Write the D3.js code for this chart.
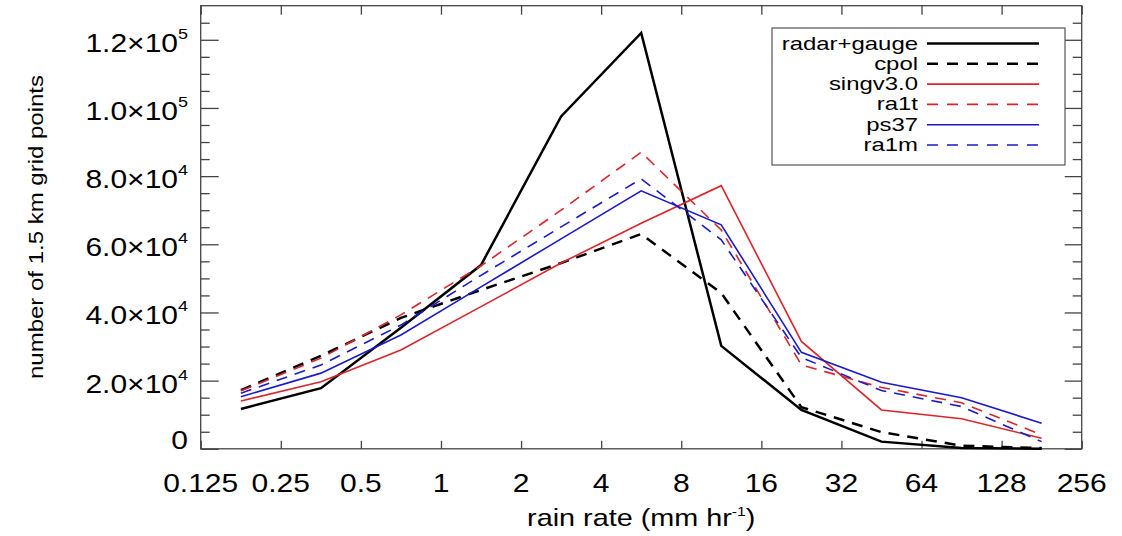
<!DOCTYPE html>
<html>
<head>
<meta charset="utf-8">
<script src="https://cdn.jsdelivr.net/npm/d3@7"></script>
<style>
  body { margin: 0; background: #fff; }
  text { font-family: "Liberation Sans", Arial, Helvetica, sans-serif; fill: #000; }
</style>
</head>
<body>
<svg id="chart" width="1122" height="536"></svg>
<script>
// bin centres (mm/hr), log2 spaced
const rainRate = [0.177, 0.354, 0.707, 1.414, 2.828, 5.657, 11.31, 22.63, 45.25, 90.51, 181.0];

const radarGauge = [11700, 17800, 35500, 53900, 97500, 122000, 30200, 11400, 2100, 200, 0];
const cpol       = [17200, 27300, 38400, 46600, 54500, 63000, 45700, 12200, 4900, 900, 200];
const singv30    = [14000, 19700, 29000, 41700, 54500, 66200, 77200, 31500, 11400, 8800, 3100];
const ra1t       = [17000, 26600, 39300, 53700, 70000, 87000, 64200, 24600, 18000, 13500, 4100];
const ps37       = [15300, 22200, 33400, 47500, 61600, 75700, 65700, 28300, 19500, 15000, 7500];
const ra1m       = [16300, 24600, 36300, 50900, 65100, 79200, 61300, 26800, 17100, 12400, 2100];

const seriesNames = ["radar+gauge", "cpol", "singv3.0", "ra1t", "ps37", "ra1m"];
const seriesColors = ["#000000", "#000000", "#d9262b", "#d9262b", "#1a1ac8", "#1a1ac8"];
const seriesDashed = [false, true, false, true, false, true];
const seriesWidths = [2.5, 2.5, 1.6, 1.6, 1.6, 1.6];
const seriesValues = [radarGauge, cpol, singv30, ra1t, ps37, ra1m];

const xTickValues = [0.125, 0.25, 0.5, 1, 2, 4, 8, 16, 32, 64, 128, 256];
const yMajorValues = [0, 20000, 40000, 60000, 80000, 100000, 120000];
const yMinorValues = [5000, 10000, 15000, 25000, 30000, 35000, 45000, 50000, 55000,
  65000, 70000, 75000, 85000, 90000, 95000, 105000, 110000, 115000, 125000];

const xTitle = "rain rate (mm hr";
const yTitle = "number of 1.5 km grid points";

const stretch = 1.2; // text in the figure is drawn wide
const plotLeft = 200.7, plotRight = 1081.7, plotTop = 5.7, plotBottom = 448.8;

const svg = d3.select("#chart");

const x = d3.scaleLog().base(2).domain([0.125, 256]).range([plotLeft, plotRight]);
const y = d3.scaleLinear().domain([0, 130000]).range([plotBottom, plotTop]);

// helper for stretched text
function label(px, py, str, size, anchor, sx) {
  const g = svg.append("g").attr("transform", `translate(${px},${py}) scale(${sx || stretch},1)`);
  return g.append("text")
    .attr("text-anchor", anchor)
    .style("font-size", size + "px")
    .text(str);
}

// tick marks via d3 axes (inward ticks, no labels)
function tickAxis(axis, tx, ty) {
  const g = svg.append("g").attr("transform", `translate(${tx},${ty})`).call(axis);
  g.select(".domain").remove();
  g.selectAll("line").attr("stroke", "#444").attr("stroke-width", 1.3);
  g.selectAll("text").remove();
}

tickAxis(d3.axisBottom(x).tickValues(xTickValues).tickSize(-8).tickFormat(""), 0, plotBottom);
tickAxis(d3.axisTop(x).tickValues(xTickValues).tickSize(-9).tickFormat(""), 0, plotTop);
tickAxis(d3.axisLeft(y).tickValues(yMajorValues).tickSize(-18).tickFormat(""), plotLeft, 0);
tickAxis(d3.axisLeft(y).tickValues(yMinorValues).tickSize(-9).tickFormat(""), plotLeft, 0);
tickAxis(d3.axisRight(y).tickValues(yMajorValues).tickSize(-17).tickFormat(""), plotRight, 0);
tickAxis(d3.axisRight(y).tickValues(yMinorValues).tickSize(-9).tickFormat(""), plotRight, 0);

// frame
svg.append("rect")
  .attr("x", plotLeft).attr("y", plotTop)
  .attr("width", plotRight - plotLeft).attr("height", plotBottom - plotTop)
  .attr("fill", "none").attr("stroke", "#444").attr("stroke-width", 1.3);

// x tick labels
xTickValues.forEach(v => {
  label(x(v), 492, String(v), 25, "middle");
});

// y tick labels
yMajorValues.forEach(v => {
  if (v === 0) {
    label(188, plotBottom, "0", 25, "end");
    return;
  }
  const e = Math.floor(Math.log10(v));
  const m = (v / Math.pow(10, e)).toFixed(1);
  const t = label(188, y(v) + 12, "", 25, "end");
  t.append("tspan").text(m + "\u00d710");
  t.append("tspan").attr("dy", -13).style("font-size", "15px").text(e);
});

// axis titles
const xt = label((plotLeft + plotRight) / 2, 526, "", 24, "middle");
xt.append("tspan").text(xTitle);
xt.append("tspan").attr("dy", -10).style("font-size", "13px").text("-1");
xt.append("tspan").attr("dy", 10).text(")");

svg.append("g")
  .attr("transform", `translate(43,227) rotate(-90) scale(${stretch},1)`)
  .append("text")
  .attr("text-anchor", "middle")
  .style("font-size", "20px")
  .text(yTitle);

// series lines
const line = d3.line()
  .x((d, i) => x(rainRate[i]))
  .y(d => y(d));

seriesValues.forEach((vals, k) => {
  svg.append("path")
    .datum(vals)
    .attr("d", line)
    .attr("fill", "none")
    .attr("stroke", seriesColors[k])
    .attr("stroke-width", seriesWidths[k])
    .attr("stroke-linejoin", "miter")
    .attr("stroke-dasharray", seriesDashed[k] ? "11,8" : null);
});

// legend
svg.append("rect")
  .attr("x", 772).attr("y", 28)
  .attr("width", 293).attr("height", 137)
  .attr("fill", "#fff").attr("stroke", "#555").attr("stroke-width", 1.2);

seriesNames.forEach((name, k) => {
  const ly = 43.5 + k * 20.3;
  svg.append("line")
    .attr("x1", 927).attr("x2", 1039)
    .attr("y1", ly).attr("y2", ly)
    .attr("stroke", seriesColors[k])
    .attr("stroke-width", seriesWidths[k])
    .attr("stroke-dasharray", seriesDashed[k] ? "11,9" : null);
  label(918, ly + 6, name, 18, "end", 1.33);
});
</script>
</body>
</html>
